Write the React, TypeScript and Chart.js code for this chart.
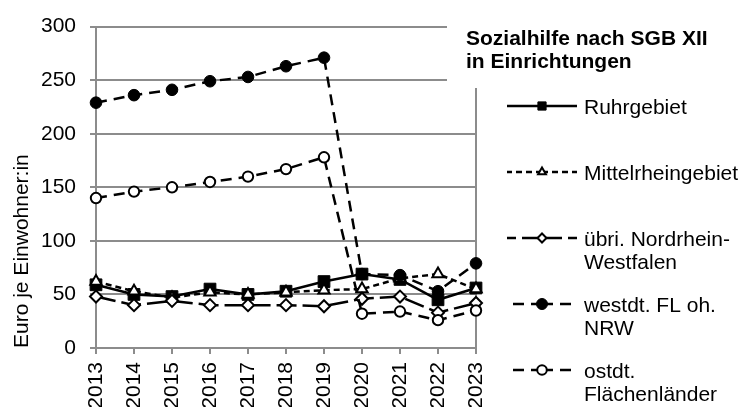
import React, { useEffect, useRef } from 'react';
import { Chart, registerables } from 'chart.js';

Chart.register(...registerables);

// ---- data ----
const years = ['2013', '2014', '2015', '2016', '2017', '2018', '2019', '2020', '2021', '2022', '2023'];
const ruhrgebiet = [59, 50, 48, 55, 50, 53, 62, 69, 64, 45, 56];
const mittelrheingebiet = [62, 53, 47, 52, 50, 52, 54, 55, 65, 69, 55];
const uebrigesNrw = [48, 40, 44, 40, 40, 40, 39, 46, 48, 33, 42];
const westdtFl = [229, 236, 241, 249, 253, 263, 271, 69, 68, 53, 79];
const ostdtFl = [140, 146, 150, 155, 160, 167, 178, 32, 34, 26, 35];

const seriesNames = ['Ruhrgebiet', 'Mittelrheingebiet', 'übri. Nordrhein-Westfalen', 'westdt. FL oh. NRW', 'ostdt. Flächenländer'];
const legendLines = [
  ['Ruhrgebiet'],
  ['Mittelrheingebiet'],
  ['übri. Nordrhein-', 'Westfalen'],
  ['westdt. FL oh.', 'NRW'],
  ['ostdt.', 'Flächenländer'],
];
const titleLines = ['Sozialhilfe nach SGB XII', 'in Einrichtungen'];
const yAxisTitle = 'Euro je Einwohner:in';
const yMin = 0;
const yMax = 300;
const yStep = 50;

const FONT = '"Liberation Sans", Arial, sans-serif';
const GRID = '#8c8c8c';
const FS = 21;

type Style = {
  dash: number[];
  point: string;
  radius: number;
  fill: string;
  pbw: number;
  legendRadius: number;
};

const styles: Style[] = [
  { dash: [], point: 'rect', radius: 8.3, fill: '#000', pbw: 1, legendRadius: 5.8 },
  { dash: [6, 4], point: 'triangle', radius: 6.5, fill: '#fff', pbw: 2, legendRadius: 4.5 },
  { dash: [20, 6], point: 'rectRot', radius: 6, fill: '#fff', pbw: 2, legendRadius: 4.5 },
  { dash: [11, 7], point: 'circle', radius: 5.8, fill: '#000', pbw: 1, legendRadius: 5.5 },
  { dash: [11, 7], point: 'circle', radius: 5.2, fill: '#fff', pbw: 2, legendRadius: 4.8 },
];

const seriesData = [ruhrgebiet, mittelrheingebiet, uebrigesNrw, westdtFl, ostdtFl];

function drawMarker(ctx: CanvasRenderingContext2D, kind: string, x: number, y: number, r: number, fill: string, bw: number) {
  ctx.save();
  ctx.setLineDash([]);
  ctx.beginPath();
  if (kind === 'rect') {
    const s = Math.SQRT1_2 * r;
    ctx.rect(x - s, y - s, 2 * s, 2 * s);
  } else if (kind === 'circle') {
    ctx.arc(x, y, r, 0, Math.PI * 2);
  } else if (kind === 'triangle') {
    let a = 0;
    ctx.moveTo(x + Math.sin(a) * r, y - Math.cos(a) * r);
    a += (2 * Math.PI) / 3;
    ctx.lineTo(x + Math.sin(a) * r, y - Math.cos(a) * r);
    a += (2 * Math.PI) / 3;
    ctx.lineTo(x + Math.sin(a) * r, y - Math.cos(a) * r);
    ctx.closePath();
  } else if (kind === 'rectRot') {
    ctx.moveTo(x - r, y);
    ctx.lineTo(x, y + r);
    ctx.lineTo(x + r, y);
    ctx.lineTo(x, y - r);
    ctx.closePath();
  }
  ctx.fillStyle = fill;
  ctx.fill();
  ctx.lineWidth = bw;
  ctx.strokeStyle = '#000';
  ctx.stroke();
  ctx.restore();
}

const titlePlugin = {
  id: 'titleBox',
  beforeDatasetsDraw(chart: any) {
    const ctx: CanvasRenderingContext2D = chart.ctx;
    ctx.save();
    ctx.fillStyle = '#fff';
    ctx.fillRect(447, 0, chart.width - 447, 88);
    ctx.fillStyle = '#000';
    ctx.font = `bold ${FS}px ${FONT}`;
    ctx.textAlign = 'left';
    ctx.textBaseline = 'alphabetic';
    titleLines.forEach((t, i) => ctx.fillText(t, 466, 45 + i * 23));
    ctx.restore();
  },
};

const legendPlugin = {
  id: 'customLegend',
  afterDraw(chart: any) {
    const ctx: CanvasRenderingContext2D = chart.ctx;
    const x0 = 507;
    const x1 = 577;
    const xm = 542;
    const tx = 584;
    ctx.save();
    chart.data.datasets.forEach((ds: any, i: number) => {
      const st = styles[i];
      const y = 106 + i * 66;
      ctx.lineWidth = 2.5;
      ctx.strokeStyle = '#000';
      // draw each half outward from the marker so the pattern is symmetric
      ctx.setLineDash(st.dash);
      ctx.beginPath();
      ctx.moveTo(xm, y);
      ctx.lineTo(x0, y);
      ctx.stroke();
      ctx.beginPath();
      ctx.moveTo(xm, y);
      ctx.lineTo(x1, y);
      ctx.stroke();
      drawMarker(ctx, st.point, xm, y, st.legendRadius, st.fill, st.pbw);
      ctx.setLineDash([]);
      ctx.fillStyle = '#000';
      ctx.font = `${FS}px ${FONT}`;
      ctx.textAlign = 'left';
      ctx.textBaseline = 'alphabetic';
      legendLines[i].forEach((t, j) => ctx.fillText(t, tx, y + 8 + j * 23));
    });
    ctx.restore();
  },
};

export default function App() {
  const ref = useRef<HTMLCanvasElement | null>(null);

  useEffect(() => {
    if (!ref.current) return;
    Chart.defaults.font.family = FONT;
    Chart.defaults.font.size = FS;
    Chart.defaults.color = '#000';

    const datasets = seriesData.map((d, i) => {
      const st = styles[i];
      return {
        label: seriesNames[i],
        data: d,
        borderColor: '#000',
        borderWidth: 2.5,
        borderDash: st.dash,
        pointStyle: st.point,
        pointRadius: st.radius,
        pointBackgroundColor: st.fill,
        pointBorderColor: '#000',
        pointBorderWidth: st.pbw,
        tension: 0,
        fill: false,
        clip: false as any,
        order: seriesData.length - 1 - i,
      };
    });

    const chart = new Chart(ref.current, {
      type: 'line',
      data: { labels: years, datasets: datasets as any },
      options: {
        responsive: false,
        animation: false,
        devicePixelRatio: 1,
        layout: { padding: { top: 22, right: 268, left: 0, bottom: 0 } },
        plugins: {
          legend: { display: false },
          tooltip: { enabled: false },
          title: { display: false },
        },
        scales: {
          x: {
            offset: false,
            afterFit: (s: any) => {
              s.height = 59;
            },
            grid: {
              display: true,
              drawOnChartArea: true,
              color: (c: any) => (c.index === years.length - 1 ? GRID : 'rgba(0,0,0,0)'),
              tickColor: GRID,
              lineWidth: 2,
              tickLength: 6,
            },
            border: { display: true, color: GRID, width: 2 },
            ticks: {
              autoSkip: false,
              minRotation: 90,
              maxRotation: 90,
              padding: 8,
              color: '#000',
              font: { size: FS, family: FONT },
            },
          },
          y: {
            min: yMin,
            max: yMax,
            afterFit: (s: any) => {
              s.width = 96;
            },
            ticks: {
              stepSize: yStep,
              padding: 14,
              color: '#000',
              font: { size: FS, family: FONT },
            },
            grid: { color: GRID, lineWidth: 2, tickLength: 6, tickColor: GRID },
            border: { display: true, color: GRID, width: 2 },
            title: {
              display: true,
              text: yAxisTitle,
              align: 'start',
              color: '#000',
              font: { size: FS, family: FONT },
              padding: { top: 10, bottom: 0 },
            },
          },
        },
      },
      plugins: [titlePlugin, legendPlugin],
    });
    return () => chart.destroy();
  }, []);

  return (
    <div style={{ position: 'absolute', left: 0, top: 0, width: 744, height: 407 }}>
      <canvas ref={ref} width={744} height={407} style={{ display: 'block' }} />
    </div>
  );
}
